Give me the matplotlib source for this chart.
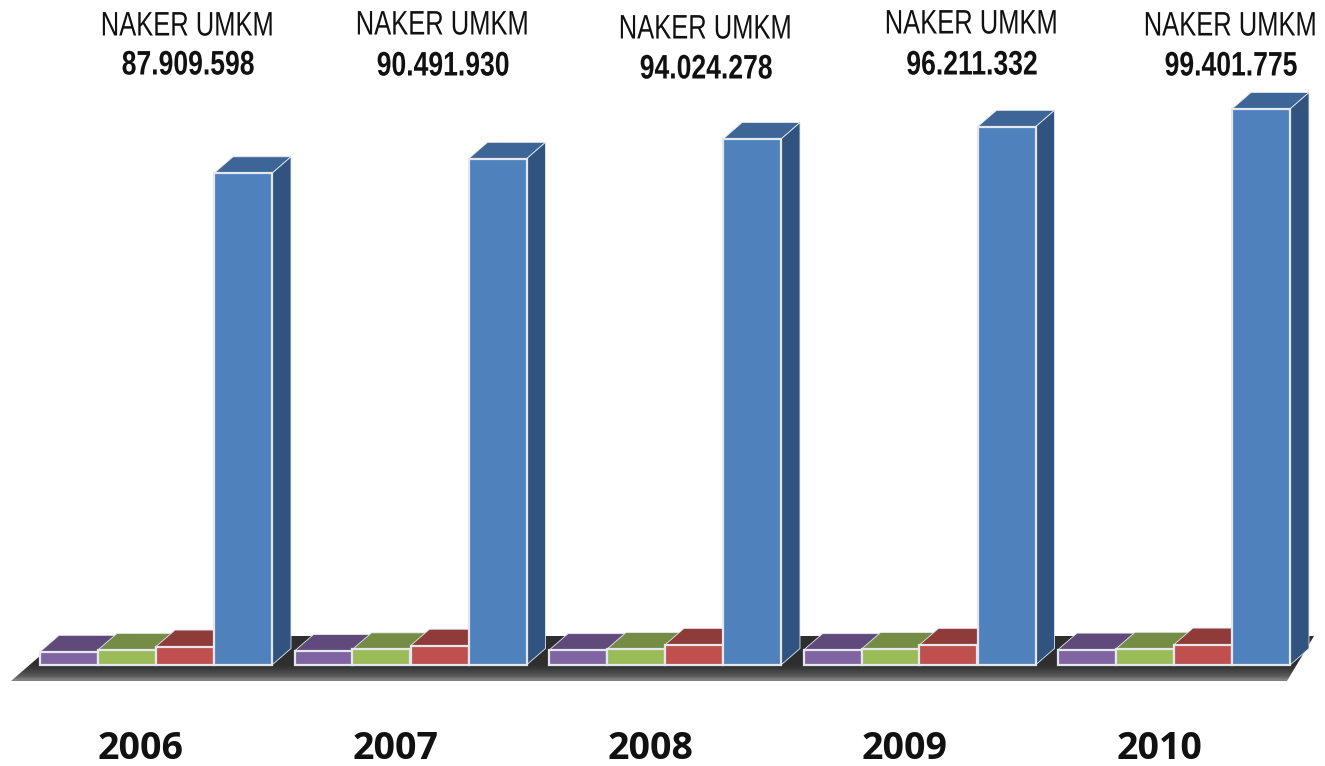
import numpy as np
import matplotlib
matplotlib.use("Agg")
import matplotlib.pyplot as plt
from matplotlib.patches import Polygon
from matplotlib.patheffects import AbstractPathEffect
from matplotlib.transforms import Affine2D

years = ["2006", "2007", "2008", "2009", "2010"]
series_label = "NAKER UMKM"
naker_umkm = [87909598, 90491930, 94024278, 96211332, 99401775]
naker_red = [3300000, 3450000, 3600000, 3600000, 3650000]
naker_green = [2700000, 2800000, 2850000, 2850000, 2900000]
naker_purple = [2350000, 2500000, 2650000, 2650000, 2750000]
value_labels = ["87.909.598", "90.491.930", "94.024.278", "96.211.332", "99.401.775"]

W, H = 1325, 766
BASE_PX, LEFT_PX, GROUP_PX, BAR_PX = 665, 40, 254.5, 58
UNITS_PER_PX = 178780
DX, DY = 19 / GROUP_PX, 16.5 * UNITS_PER_PX


class Squeeze(AbstractPathEffect):
    """Condense glyphs horizontally about a centre (no narrow font is installed)."""

    def __init__(self, cx, sx):
        super().__init__()
        self.cx, self.sx = cx, sx

    def draw_path(self, renderer, gc, tpath, affine, rgbFace=None):
        t = affine + Affine2D().translate(-self.cx, 0).scale(self.sx, 1).translate(self.cx, 0)
        renderer.draw_path(gc, tpath, t, rgbFace)


fig = plt.figure(figsize=(W / 100, H / 100), dpi=100, facecolor="white")
ax = fig.add_axes([0, 0, 1, 1])
xlim = (-LEFT_PX / GROUP_PX, (W - LEFT_PX) / GROUP_PX)
ylim = (-(H - BASE_PX) * UNITS_PER_PX, BASE_PX * UNITS_PER_PX)
ax.axis("off")


def px(x, y):
    return ((x - LEFT_PX) / GROUP_PX, (BASE_PX - y) * UNITS_PER_PX)


# floor
floor = Polygon([px(*p) for p in [(11, 681), (63, 636), (1314, 636), (1287, 681)]],
                closed=True, fc="none", ec="none", zorder=1)
ax.add_patch(floor)
grad = np.array([[0.18], [0.18], [0.18], [0.18], [0.18], [0.18], [0.18], [0.18], [0.18],
                 [0.20], [0.24], [0.30], [0.36], [0.50]])
x0, y0 = px(0, 681)
x1, y1 = px(W, 636)
im = ax.imshow(grad, cmap="gray", vmin=0, vmax=1, extent=(x0, x1, y0, y1),
               aspect="auto", interpolation="bilinear", origin="upper", zorder=1.5)
im.set_clip_path(floor)
ax.set_xlim(*xlim)
ax.set_ylim(*ylim)

# bars
width = BAR_PX / GROUP_PX
series = [
    (naker_purple, "#8064a2", "#5f4a7b", "#4f3d68"),
    (naker_green, "#9bbb59", "#748c43", "#5f7336"),
    (naker_red, "#c0504d", "#8f3b39", "#7a302e"),
    (naker_umkm, "#4f81bd", "#3d6595", "#30547f"),
]
edge = "#e4e8ee"
z = 2
for g in range(len(years)):
    for s, (vals, cf, ct, cs) in enumerate(series):
        v = vals[g]
        x = g + s * width
        ax.add_patch(Polygon([(x, v), (x + DX, v + DY), (x + width + DX, v + DY), (x + width, v)],
                             closed=True, fc=ct, ec=edge, lw=0.6, zorder=z))
        ax.add_patch(Polygon([(x + width, 0), (x + width + DX, DY), (x + width + DX, v + DY), (x + width, v)],
                             closed=True, fc=cs, ec=edge, lw=0.6, zorder=z))
        ax.bar(x, v, width=width, align="edge", color=cf, edgecolor=edge, linewidth=1.6, zorder=z + 0.5)
        z += 1

# labels
title_x = [187, 442, 705, 971, 1230]
title_y = [27, 26, 30, 25, 27]
value_y = [66, 67, 70, 66, 67]
year_x = [141, 396, 651, 905, 1160]
for i in range(len(years)):
    fig.text(title_x[i] / W, 1 - title_y[i] / H, series_label, family="Liberation Sans", fontsize=24.5,
             ha="center", va="center", color="#111111", path_effects=[Squeeze(title_x[i], 0.75)])
    fig.text((title_x[i] + 1) / W, 1 - value_y[i] / H, value_labels[i], family="Liberation Sans", fontsize=24.5,
             fontweight="bold", ha="center", va="center", color="#111111",
             path_effects=[Squeeze(title_x[i] + 1, 0.78)])
    fig.text(year_x[i] / W, 1 - 749 / H, years[i], family="Open Sans", fontsize=27,
             fontweight="bold", ha="center", va="center", color="#111111")

fig.savefig("out.png", dpi=100, facecolor="white")
